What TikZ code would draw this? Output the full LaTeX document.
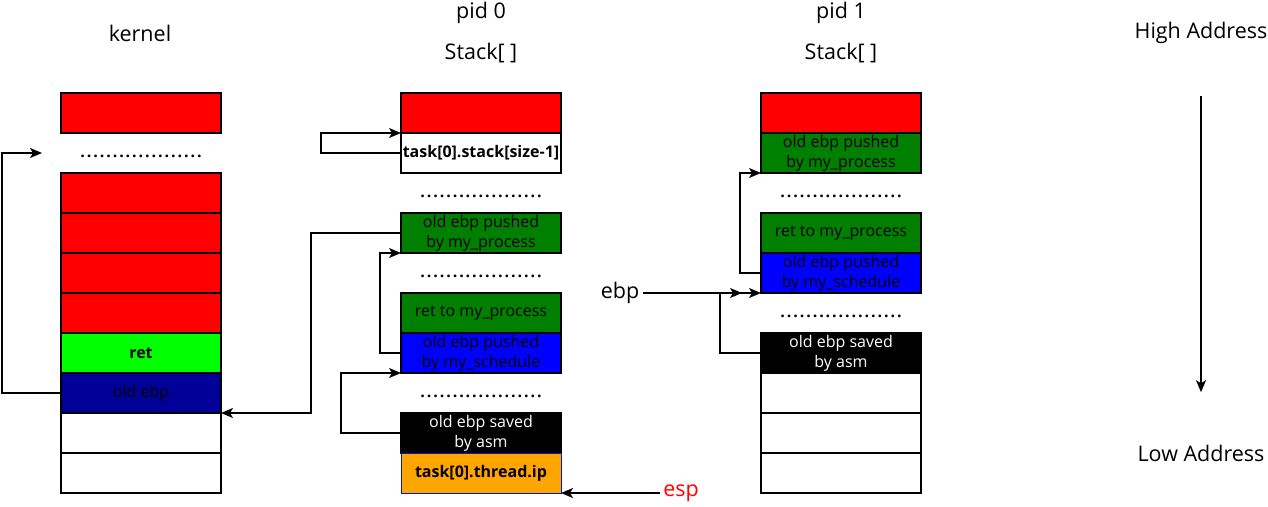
\documentclass[tikz,border=0pt]{standalone}
\usepackage{fontspec}
\setmainfont{Open Sans}
\usepackage{xcolor}
\usepackage{tikz}
\usetikzlibrary{arrows.meta,positioning}
\definecolor{stkred}{HTML}{FF0000}
\definecolor{stkgreen}{HTML}{00FF00}
\definecolor{stkdkgreen}{HTML}{007F00}
\definecolor{stkblue}{HTML}{0000FF}
\definecolor{stknavy}{HTML}{000099}
\definecolor{stkorange}{HTML}{FFA500}
\definecolor{stkedge}{HTML}{001DBC}
\newcommand\cellfont{\fontsize{16}{20}\selectfont}
\newcommand\titlefont{\fontsize{21.5}{24}\selectfont}
\newcommand\dotrow{\rule{0pt}{10pt}{\bfseries\addfontfeature{LetterSpace=12}...................}}
\tikzset{
  cell/.style ={draw=black,line width=1.3pt,minimum width=160pt,minimum height=40pt,
                inner sep=0pt,outer sep=0pt,align=center,font=\cellfont},
  gap/.style  ={minimum width=160pt,minimum height=40pt,inner sep=0pt,outer sep=0pt,
                font=\cellfont},
  title/.style={font=\titlefont},
  link/.style ={-{Stealth[length=12pt,width=10pt,inset=3pt]},line width=1.3pt}
}
\begin{document}
\begin{tikzpicture}[x=1pt,y=1pt]
  \useasboundingbox (0,0) rectangle (1268,-506);
  % kernel stack
  \node[title] (kernel) at (140,-33) {kernel};
  \node[cell,fill=stkred] (k1) at (141,-113) {};
  \node[gap,below=0pt of k1] (kdots) {\dotrow};
  \node[cell,fill=stkred,below=0pt of kdots] (k2) {};
  \node[cell,fill=stkred,below=0pt of k2] (k3) {};
  \node[cell,fill=stkred,below=0pt of k3] (k4) {};
  \node[cell,fill=stkred,below=0pt of k4] (k5) {};
  \node[cell,fill=stkgreen,below=0pt of k5] (kret) {\textbf{ret}};
  \node[cell,fill=stknavy,below=0pt of kret] (kebp) {old ebp};
  \node[cell,below=0pt of kebp] (k6) {};
  \node[cell,below=0pt of k6] (k7) {};
  \draw[link] (kebp.west) -- ++(-59,0) |- ([xshift=-19pt]kdots.west);
  % pid 0 stack
  \node[title] (pid0) at (481,-13) {pid 0};
  \node[title] (stack0) at (481,-53) {Stack[ ]};
  \node[cell,fill=stkred] (ptop) at (481,-113) {};
  \node[cell,below=0pt of ptop] (ptask) {\textbf{task[0].stack[size-1]}};
  \node[gap,below=0pt of ptask] (pdots1) {\dotrow};
  \node[cell,fill=stkdkgreen,below=0pt of pdots1] (pproc) {old ebp pushed\\by my\_process};
  \node[gap,below=0pt of pproc] (pdots2) {\dotrow};
  \node[cell,fill=stkdkgreen,below=0pt of pdots2] (pret) {ret to my\_process};
  \node[cell,fill=stkblue,below=0pt of pret] (psched) {old ebp pushed\\by my\_schedule};
  \node[gap,below=0pt of psched] (pdots3) {\dotrow};
  \node[cell,fill=black,text=white,below=0pt of pdots3] (pasm) {old ebp saved\\by asm};
  \node[cell,fill=stkorange,draw=stkedge,line width=1pt,below=0pt of pasm] (pip) {\textbf{task[0].thread.ip}};
  \draw[link] (ptask.west) -- ++(-80,0) |- (ptop.south west);
  \draw[link] (pproc.west) -- ++(-90,0) |- (kebp.south east);
  \draw[link] (psched.west) -- ++(-21,0) |- (pproc.south west);
  \draw[link] (pasm.west) -- ++(-60,0) |- (psched.south west);
  \node[title,text=stkred] (esp) at (681,-493) {esp};
  \draw[link] (esp.west) -- (pip.south east);
  % pid 1 stack
  \node[title] (pid1) at (841,-13) {pid 1};
  \node[title] (stack1) at (841,-53) {Stack[ ]};
  \node[cell,fill=stkred] (qtop) at (841,-113) {};
  \node[cell,fill=stkdkgreen,below=0pt of qtop] (qproc) {old ebp pushed\\by my\_process};
  \node[gap,below=0pt of qproc] (qdots1) {\dotrow};
  \node[cell,fill=stkdkgreen,below=0pt of qdots1] (qret) {ret to my\_process};
  \node[cell,fill=stkblue,below=0pt of qret] (qsched) {old ebp pushed\\by my\_schedule};
  \node[gap,below=0pt of qsched] (qdots2) {\dotrow};
  \node[cell,fill=black,text=white,below=0pt of qdots2] (qasm) {old ebp saved\\by asm};
  \node[cell,below=0pt of qasm] (q1) {};
  \node[cell,below=0pt of q1] (q2) {};
  \node[cell,below=0pt of q2] (q3) {};
  \draw[link] (qsched.west) -- ++(-21,0) |- (qproc.south west);
  \node[title] (ebp) at (620,-293) {ebp};
  \draw[link] (ebp.east) -- (qsched.south west);
  \draw[link] (qasm.west) -- ++(-41,0) |- ([xshift=-19pt]qsched.south west);
  % address direction
  \node[title] (high) at (1201,-33) {High Address};
  \node[title] (low) at (1201,-453) {Low Address};
  \draw[link] ([yshift=-49pt]high.south) -- ([yshift=49pt]low.north);
\end{tikzpicture}
\end{document}
